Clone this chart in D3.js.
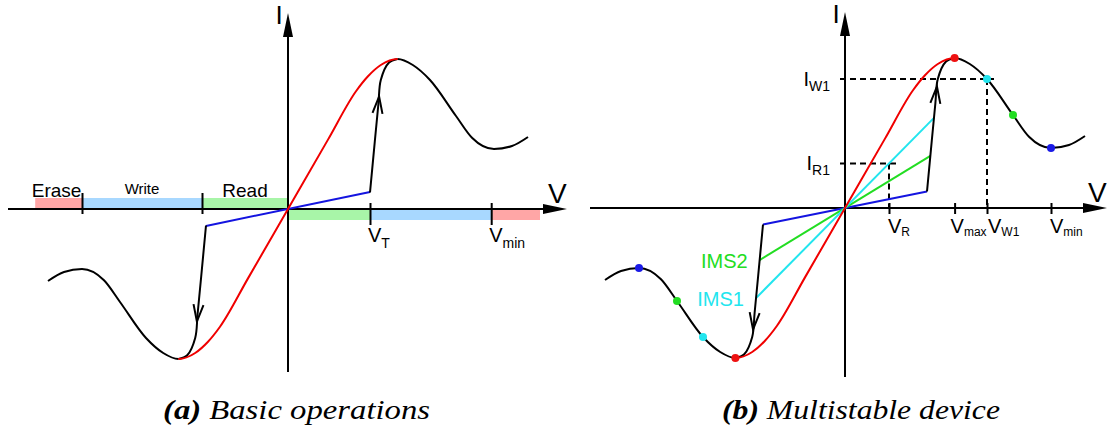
<!DOCTYPE html>
<html>
<head>
<meta charset="utf-8">
<script src="https://cdn.jsdelivr.net/npm/d3@7"></script>
<style>
  body { margin: 0; background: #fff; }
  svg { display: block; font-family: "Liberation Sans", Arial, sans-serif; }
</style>
</head>
<body>
<script>
// I-V characteristic, right half (the curve is point-symmetric about the origin)
const curveV = [0, 0.5, 0.85, 1.0, 1.16, 1.37, 1.56, 1.775, 2.1, 2.3, 2.575, 2.8, 3.0];
const curveI = [0, 0.925, 1.57, 1.77, 1.92, 2.0, 1.92, 1.72, 1.24, 0.95, 0.8, 0.84, 0.96];
const peakV = 1.37;

// switching branch: from the low-conductance line up to the peak
const switchV = [1.025, 1.085, 1.13, 1.16, 1.26, 1.37];
const switchI = [0.22, 0.9, 1.4, 1.72, 1.95, 2.0];

// (a) operating regions along V (left side, mirrored on the right)
const bandNames = ['Erase', 'Write', 'Read'];
const bandFrom = [-3.16, -2.575, -1.075];
const bandTo = [-2.575, -1.075, 0];
const bandFromRight = [2.54, 1.025, 0];
const bandToRight = [3.15, 2.54, 1.025];
const bandColors = ['#ffa6a6', '#a8d8ff', '#a8f5a8'];
const ticksLeftA = [-2.575, -1.075];
const ticksRightA = [1.025, 2.54];
const tickSubA = ['T', 'min'];
const slopeA = 0.22;

// (b) multistable device
const stateV = [1.37, 1.775, 2.1, 2.575];
const stateColors = ['#ee1111', '#22e5ee', '#22dd22', '#1a1ae6'];
const loadSlopes = [0.215, 0.65, 1.08];
const loadColors = ['#1414e0', '#22dd22', '#22e5ee'];
const loadNames = ['', 'IMS2', 'IMS1'];
const ticksB = [0.55, 1.37, 1.775, 2.575];
const tickSubB = ['R', 'max', 'W1', 'min'];
const levelV = [1.775, 0.55];
const levelI = [1.72, 0.594];
const levelSub = ['W1', 'R1'];

const W = 1110, H = 431;
const svg = d3.select('body').append('svg').attr('width', W).attr('height', H);
const defs = svg.append('defs');

const red = '#f00000';

// full symmetric curve
const fullCurve = curveV.slice(1).map((v, i) => [-v, -curveI[i + 1]]).reverse()
  .concat(curveV.map((v, i) => [v, curveI[i]]));
const switchPts = switchV.map((v, i) => [v, switchI[i]]);

function addClips(id, x) {
  const mid = defs.append('clipPath').attr('id', id + 'mid');
  mid.append('rect').attr('x', x(-peakV)).attr('y', 0).attr('width', x(peakV) - x(-peakV)).attr('height', H);
  const out = defs.append('clipPath').attr('id', id + 'out');
  out.append('rect').attr('x', 0).attr('y', 0).attr('width', x(-peakV)).attr('height', H);
  out.append('rect').attr('x', x(peakV)).attr('y', 0).attr('width', W - x(peakV)).attr('height', H);
}

function drawAxes(g, x, y, ax) {
  const x0 = x(0), y0 = y(0);
  g.append('line').attr('x1', ax.left).attr('x2', ax.right - 10).attr('y1', y0).attr('y2', y0)
    .attr('stroke', '#000').attr('stroke-width', 2);
  g.append('path').attr('d', `M${ax.right},${y0}L${ax.right - 24},${y0 - 5}L${ax.right - 24},${y0 + 5}Z`);
  g.append('line').attr('x1', x0).attr('x2', x0).attr('y1', ax.bottom).attr('y2', ax.top + 10)
    .attr('stroke', '#000').attr('stroke-width', 2);
  g.append('path').attr('d', `M${x0},${ax.top}L${x0 - 5},${ax.top + 24}L${x0 + 5},${ax.top + 24}Z`);
  g.append('text').attr('x', x0 - 9).attr('y', ax.top + 11).attr('text-anchor', 'middle')
    .attr('font-size', 26).text('I');
  g.append('text').attr('x', ax.right - 19).attr('y', y0 - 6).attr('font-size', 28).text('V');
}

function drawCurve(g, x, y, id) {
  const line = d3.line().x(d => x(d[0])).y(d => y(d[1])).curve(d3.curveMonotoneX);
  g.append('path').attr('d', line(fullCurve)).attr('fill', 'none')
    .attr('stroke', '#000').attr('stroke-width', 2).attr('clip-path', `url(#${id}out)`);
  g.append('path').attr('d', line(fullCurve)).attr('fill', 'none')
    .attr('stroke', red).attr('stroke-width', 2).attr('clip-path', `url(#${id}mid)`);
}

function drawSwitch(g, x, y, arrowI) {
  const line = d3.line().x(d => x(d[0])).y(d => y(d[1])).curve(d3.curveCatmullRom.alpha(0.5));
  [1, -1].forEach(s => {
    g.append('path').attr('d', line(switchPts.map(p => [s * p[0], s * p[1]])))
      .attr('fill', 'none').attr('stroke', '#000').attr('stroke-width', 2);
    // open arrowhead on the straight part
    const p0 = [x(s * switchV[0]), y(s * switchI[0])];
    const p1 = [x(s * switchV[2]), y(s * switchI[2])];
    const t = (arrowI - switchI[0]) / (switchI[2] - switchI[0]);
    const tip = [p0[0] + t * (p1[0] - p0[0]), p0[1] + t * (p1[1] - p0[1])];
    const len = Math.hypot(p1[0] - p0[0], p1[1] - p0[1]);
    const dx = (p1[0] - p0[0]) / len, dy = (p1[1] - p0[1]) / len;
    const L = 17, w = 5;
    g.append('path')
      .attr('d', `M${tip[0] - L * dx - w * dy},${tip[1] - L * dy + w * dx}L${tip[0]},${tip[1]}L${tip[0] - L * dx + w * dy},${tip[1] - L * dy - w * dx}`)
      .attr('fill', 'none').attr('stroke', '#000').attr('stroke-width', 2);
  });
}

function subLabel(g, px, py, main, sub, size, subSize, dy, anchor) {
  const t = g.append('text').attr('x', px).attr('y', py).attr('font-size', size)
    .attr('text-anchor', anchor || 'start');
  t.append('tspan').text(main);
  t.append('tspan').attr('font-size', subSize).attr('dy', dy).text(sub);
  return t;
}

// ---------- (a) Basic operations ----------
const xA = d3.scaleLinear().domain([-3.5, 3.5]).range([8, 568]);
const yA = d3.scaleLinear().domain([-2.2, 2.2]).range([374, 44]);
const gA = svg.append('g');
addClips('a', xA);

// bands: above the axis on the left, below on the right
gA.selectAll('rect.bl').data(bandNames).enter().append('rect')
  .attr('x', (d, i) => xA(bandFrom[i])).attr('width', (d, i) => xA(bandTo[i]) - xA(bandFrom[i]))
  .attr('y', yA(0) - 11).attr('height', 11).attr('fill', (d, i) => bandColors[i]);
gA.selectAll('rect.br').data(bandNames).enter().append('rect')
  .attr('x', (d, i) => xA(bandFromRight[i])).attr('width', (d, i) => xA(bandToRight[i]) - xA(bandFromRight[i]))
  .attr('y', yA(0)).attr('height', 11).attr('fill', (d, i) => bandColors[i]);
gA.selectAll('text.band').data(bandNames).enter().append('text')
  .attr('x', (d, i) => (xA(bandFrom[i]) + xA(bandTo[i])) / 2 + (i === 0 ? -2 : 0))
  .attr('y', (d, i) => i === 1 ? yA(0) - 15 : yA(0) - 12)
  .attr('text-anchor', 'middle').attr('font-size', (d, i) => i === 1 ? 15 : 19).text(d => d);

drawAxes(gA, xA, yA, { left: 8, right: 567, top: 13, bottom: 372 });

// ticks
const axLeftA = d3.axisTop(xA).tickValues(ticksLeftA).tickSize(21).tickFormat('');
gA.append('g').attr('transform', `translate(0,${yA(0) + 5})`).call(axLeftA)
  .call(s => s.select('.domain').remove())
  .call(s => s.selectAll('.tick line').attr('stroke', '#000').attr('stroke-width', 2));
const axRightA = d3.axisBottom(xA).tickValues(ticksRightA).tickSize(22).tickFormat('');
gA.append('g').attr('transform', `translate(0,${yA(0) - 6})`).call(axRightA)
  .call(s => s.select('.domain').remove())
  .call(s => s.selectAll('.tick line').attr('stroke', '#000').attr('stroke-width', 2));
ticksRightA.forEach((v, i) => subLabel(gA, xA(v) - 2, 242, 'V', tickSubA[i], 20, 14, 6));

// low-conductance line
gA.append('line').attr('x1', xA(-switchV[0])).attr('y1', yA(-slopeA * switchV[0]))
  .attr('x2', xA(switchV[0])).attr('y2', yA(slopeA * switchV[0]))
  .attr('stroke', '#1414e0').attr('stroke-width', 2);
drawSwitch(gA, xA, yA, 1.5);
drawCurve(gA, xA, yA, 'a');

// ---------- (b) Multistable device ----------
const xB = d3.scaleLinear().domain([-3.5, 3.5]).range([565, 1125]);
const yB = d3.scaleLinear().domain([-2.2, 2.2]).range([373, 43]);
const gB = svg.append('g');
addClips('b', xB);

drawAxes(gB, xB, yB, { left: 590, right: 1107, top: 12, bottom: 377 });

const axB = d3.axisBottom(xB).tickValues(ticksB).tickSize(11).tickFormat('');
gB.append('g').attr('transform', `translate(0,${yB(0) - 5})`).call(axB)
  .call(s => s.select('.domain').remove())
  .call(s => s.selectAll('.tick line').attr('stroke', '#000').attr('stroke-width', 2));
const labelShiftB = [-1, -4, 1, -1];
ticksB.forEach((v, i) => subLabel(gB, xB(v) + labelShiftB[i], 233, 'V', tickSubB[i], 20, 12, 3));

// dashed read / write levels
levelI.forEach((lv, i) => {
  gB.append('line').attr('x1', xB(0) - 5).attr('x2', xB(levelV[i]) + 7)
    .attr('y1', yB(lv)).attr('y2', yB(lv))
    .attr('stroke', '#000').attr('stroke-width', 2).attr('stroke-dasharray', '6,4');
  gB.append('line').attr('x1', xB(levelV[i])).attr('x2', xB(levelV[i]))
    .attr('y1', yB(lv)).attr('y2', yB(0))
    .attr('stroke', '#000').attr('stroke-width', 2).attr('stroke-dasharray', '6,4');
  subLabel(gB, 830, yB(lv) + 7, 'I', levelSub[i], 20, 14, 5, 'end');
});

// load lines of the intermediate states, ending on the switching branch
const k = (switchV[2] - switchV[0]) / (switchI[2] - switchI[0]);
loadSlopes.forEach((s, i) => {
  const vEnd = (switchV[0] - k * switchI[0]) / (1 - k * s);
  gB.append('line').attr('x1', xB(-vEnd)).attr('y1', yB(-s * vEnd))
    .attr('x2', xB(vEnd)).attr('y2', yB(s * vEnd))
    .attr('stroke', loadColors[i]).attr('stroke-width', 2);
  if (loadNames[i]) {
    gB.append('text').attr('x', xB(-vEnd) - 12).attr('y', yB(-s * vEnd) + 8)
      .attr('text-anchor', 'end').attr('font-size', 20).attr('fill', loadColors[i]).text(loadNames[i]);
  }
});

drawSwitch(gB, xB, yB, 1.62);
drawCurve(gB, xB, yB, 'b');

// stable states
[1, -1].forEach(sg => {
  gB.selectAll(null).data(stateV).enter().append('circle')
    .attr('cx', v => xB(sg * v))
    .attr('cy', v => yB(sg * curveI[curveV.indexOf(v)]))
    .attr('r', 4).attr('fill', (v, i) => stateColors[i]);
});

// ---------- captions ----------
function caption(px, tag, rest, len) {
  const t = svg.append('text').attr('x', px).attr('y', 419)
    .style('font-family', '"Liberation Serif", "Times New Roman", serif')
    .style('font-style', 'italic').attr('font-size', 27)
    .attr('textLength', len).attr('lengthAdjust', 'spacingAndGlyphs');
  t.append('tspan').style('font-weight', 'bold').text(tag);
  t.append('tspan').text(' ' + rest);
}
caption(163, '(a)', 'Basic operations', 267);
caption(722, '(b)', 'Multistable device', 278);
</script>
</body>
</html>
